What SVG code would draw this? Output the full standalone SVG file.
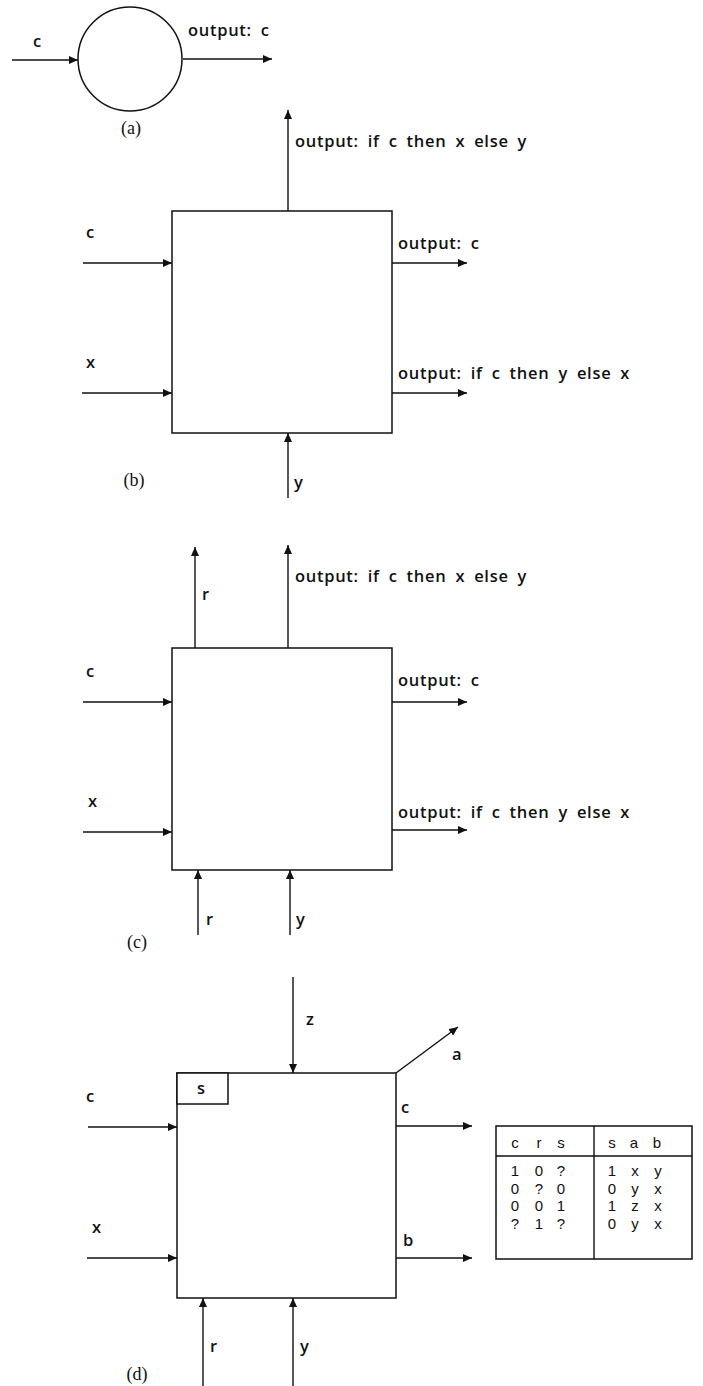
<svg xmlns="http://www.w3.org/2000/svg" width="703" height="1386" viewBox="0 0 703 1386">
<style>
.ln{stroke:#111;stroke-width:1.4;fill:none}
.bx{stroke:#111;stroke-width:1.5;fill:#fff}
.t{font-family:"Open Sans","Liberation Sans",sans-serif;font-size:16.5px;font-weight:600;fill:#111;letter-spacing:0.7px;word-spacing:4px}
.cap{font-family:"Liberation Serif",serif;font-size:18px;fill:#111}
.tb{font-family:"Liberation Sans",sans-serif;font-size:15px;fill:#111}
</style>
<defs>
<marker id="ah" markerUnits="userSpaceOnUse" markerWidth="10" markerHeight="8" refX="9" refY="4" orient="auto">
<path d="M0,0 L9,4 L0,8 z" fill="#111"/>
</marker>
</defs>
<rect width="703" height="1386" fill="#fff"/>

<g id="node-a"><circle cx="130" cy="59" r="52" class="bx"/></g>
<g id="node-b"><rect x="172" y="211" width="220" height="222" class="bx"/></g>
<g id="node-c"><rect x="172" y="648" width="220" height="222" class="bx"/></g>
<g id="node-d"><rect x="177" y="1073" width="219" height="225" class="bx"/></g>
<g id="node-d-s"><rect x="177" y="1073" width="51" height="31" class="bx"/><text x="197" y="1094" class="t">s</text></g>
<g id="table">
<rect x="496" y="1126" width="196" height="133" class="bx"/>
<line x1="594" y1="1126" x2="594" y2="1259" class="ln"/>
<line x1="496" y1="1156" x2="692" y2="1156" class="ln"/>
<g class="tb" text-anchor="middle">
<text x="515" y="1148">c</text><text x="539" y="1148">r</text><text x="561" y="1148">s</text>
<text x="612" y="1148">s</text><text x="634" y="1148">a</text><text x="657" y="1148">b</text>
<text x="515" y="1176">1</text><text x="539" y="1176">0</text><text x="561" y="1176">?</text>
<text x="612" y="1176">1</text><text x="635" y="1176">x</text><text x="658" y="1176">y</text>
<text x="515" y="1193.5">0</text><text x="539" y="1193.5">?</text><text x="561" y="1193.5">0</text>
<text x="612" y="1193.5">0</text><text x="635" y="1193.5">y</text><text x="658" y="1193.5">x</text>
<text x="515" y="1211">0</text><text x="539" y="1211">0</text><text x="561" y="1211">1</text>
<text x="612" y="1211">1</text><text x="635" y="1211">z</text><text x="658" y="1211">x</text>
<text x="515" y="1228.5">?</text><text x="539" y="1228.5">1</text><text x="561" y="1228.5">?</text>
<text x="612" y="1228.5">0</text><text x="635" y="1228.5">y</text><text x="658" y="1228.5">x</text>
</g>
</g>

<g id="connectors" class="ln" marker-end="url(#ah)">
<line x1="12" y1="60" x2="78" y2="60"/>
<line x1="183" y1="59" x2="272" y2="59"/>
<line x1="288" y1="211" x2="288" y2="110"/>
<line x1="83" y1="263" x2="172" y2="263"/>
<line x1="82" y1="393" x2="172" y2="393"/>
<line x1="392" y1="263" x2="467" y2="263"/>
<line x1="392" y1="393" x2="467" y2="393"/>
<line x1="288" y1="498" x2="288" y2="433"/>
<line x1="195" y1="648" x2="195" y2="547"/>
<line x1="288" y1="648" x2="288" y2="545"/>
<line x1="83" y1="702" x2="172" y2="702"/>
<line x1="83" y1="832" x2="172" y2="832"/>
<line x1="392" y1="702" x2="467" y2="702"/>
<line x1="392" y1="830" x2="467" y2="830"/>
<line x1="198" y1="935" x2="198" y2="870"/>
<line x1="290" y1="935" x2="290" y2="870"/>
<line x1="293" y1="977" x2="293" y2="1073"/>
<line x1="396" y1="1073" x2="458" y2="1027"/>
<line x1="88" y1="1127" x2="177" y2="1127"/>
<line x1="87" y1="1258" x2="177" y2="1258"/>
<line x1="396" y1="1126" x2="472" y2="1126"/>
<line x1="396" y1="1258" x2="472" y2="1258"/>
<line x1="203" y1="1386" x2="203" y2="1298"/>
<line x1="293" y1="1386" x2="293" y2="1298"/>
</g>

<g id="labels" class="t">
<text x="33" y="47">c</text>
<text x="188" y="36">output: c</text>
<text x="295" y="147">output: if c then x else y</text>
<text x="86" y="238">c</text>
<text x="86" y="368">x</text>
<text x="398" y="249">output: c</text>
<text x="398" y="379">output: if c then y else x</text>
<text x="294" y="488">y</text>
<text x="202" y="600">r</text>
<text x="295" y="582">output: if c then x else y</text>
<text x="86" y="677">c</text>
<text x="88" y="807">x</text>
<text x="398" y="686">output: c</text>
<text x="398" y="818">output: if c then y else x</text>
<text x="206" y="925">r</text>
<text x="296" y="925">y</text>
<text x="306" y="1025">z</text>
<text x="452" y="1060">a</text>
<text x="86" y="1102">c</text>
<text x="92" y="1233">x</text>
<text x="401" y="1113">c</text>
<text x="403" y="1246">b</text>
<text x="210" y="1352">r</text>
<text x="300" y="1352">y</text>
</g>
<g id="captions" class="cap" text-anchor="middle">
<text x="131" y="134">(a)</text>
<text x="134" y="486">(b)</text>
<text x="137" y="948">(c)</text>
<text x="137" y="1380">(d)</text>
</g>
</svg>
